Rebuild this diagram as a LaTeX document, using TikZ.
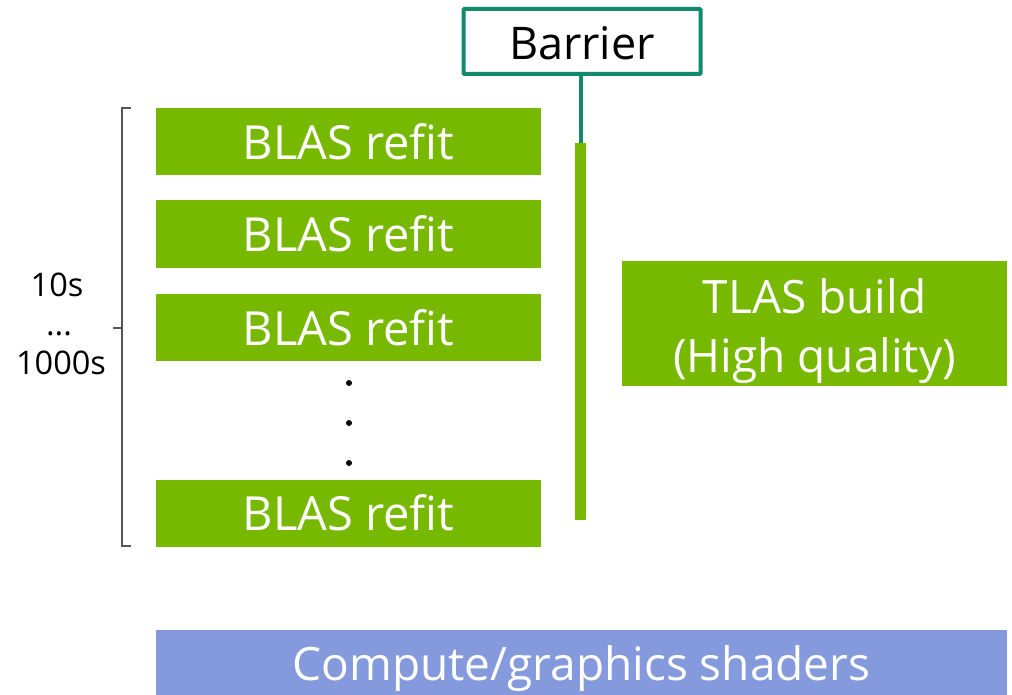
\documentclass[tikz,border=0pt]{standalone}
\usepackage{fontspec}
\setmainfont{Open Sans}
\definecolor{nvgreen}{HTML}{76B900}
\definecolor{barteal}{HTML}{118A6E}
\definecolor{shaderblue}{HTML}{8599DD}
\definecolor{bracegray}{HTML}{555555}
\newcommand{\lowertext}[2]{\raisebox{-#1}[\height][\depth]{#2}}
\begin{document}
\begin{tikzpicture}[x=1pt,y=-1pt,
  greenbox/.style={fill=nvgreen,draw=none,inner sep=0pt,minimum width=385pt,minimum height=67pt,text=white,font=\fontsize{47}{56}\selectfont,align=center},
  dotmark/.style={circle,fill=black,inner sep=0pt,minimum size=6pt},
  sidelabel/.style={font=\fontsize{32.5}{36}\selectfont,inner sep=0pt}]
\useasboundingbox (0,0) rectangle (1012,695);
% BLAS refit boxes
\node[greenbox] (b1) at (348.5,141.5) {BLAS refit};
\node[greenbox] (b2) at (348.5,234) {BLAS refit};
\node[greenbox] (b3) at (348.5,327.5) {BLAS refit};
\node[greenbox] (b4) at (348.5,513) {BLAS refit};
% dots
\node[dotmark] (d1) at (349,383) {};
\node[dotmark] (d2) at (349,423) {};
\node[dotmark] (d3) at (349,463) {};
% barrier bar
\node[fill=nvgreen,inner sep=0pt,minimum width=11pt,minimum height=377pt] (bar) at (580.5,331.5) {};
% barrier label
\node[draw=barteal,line width=4pt,fill=white,rounded corners=1pt,inner sep=0pt,minimum width=237pt,minimum height=65pt,font=\fontsize{45}{54}\selectfont] (barrier) at (582,41.5) {\lowertext{2pt}{Barrier}};
\draw[barteal,line width=4pt] (barrier.south -| bar) -- (bar.north);
% TLAS build
\node[greenbox,minimum height=125pt,font=\fontsize{46}{59}\selectfont] (tlas) at (814.5,323.5) {\lowertext{8pt}{TLAS build}\\\lowertext{8pt}{(High quality)}};
% compute shaders
\node[fill=shaderblue,inner sep=0pt,minimum width=851pt,minimum height=65pt,text=white,font=\fontsize{46}{50}\selectfont] (shaders) at (581.5,662.5) {\lowertext{6pt}{Compute/graphics shaders}};
% brace
\draw[bracegray,line width=1.6pt] (131,108) -- (122,108) -- (122,546) -- (131,546);
\draw[bracegray,line width=1.6pt] (122,328) -- (113,328);
% side labels
\node[sidelabel] (l1) at (57,285) {10s};
\node[sidelabel,anchor=base] (l2) at (59,335) {...};
\node[sidelabel] (l3) at (61,363) {1000s};
\end{tikzpicture}
\end{document}
